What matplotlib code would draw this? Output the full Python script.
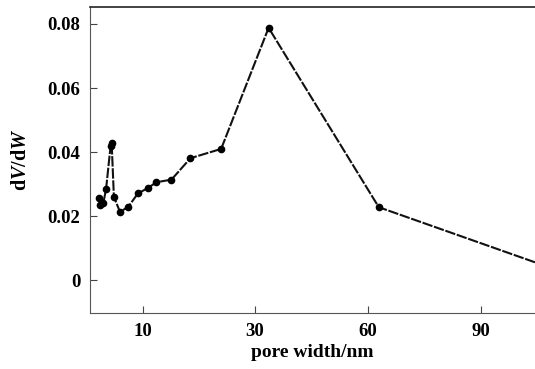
import numpy as np
import matplotlib
matplotlib.use("Agg")
import matplotlib.pyplot as plt

plt.rcParams['font.family'] = 'Liberation Serif'
plt.rcParams['mathtext.fontset'] = 'custom'
plt.rcParams['mathtext.it'] = 'Liberation Serif:italic:bold'
plt.rcParams['mathtext.rm'] = 'Liberation Serif:bold'

# pore width (nm) and dV/dW
width = [2.1, 2.4, 2.9, 3.4, 4.2, 4.4, 4.8, 5.9, 7.4, 9.1, 10.9, 12.4, 15.1, 18.5, 24.0, 33.7, 62.9, 104.3]
dvdw = [0.0256, 0.0234, 0.0240, 0.0285, 0.0418, 0.0428, 0.0260, 0.0213, 0.0230, 0.0271, 0.0288, 0.0306, 0.0314, 0.0381, 0.0410, 0.0788, 0.0228, 0.0056]

xticks = [10, 30, 60, 90]
yticks = [0, 0.02, 0.04, 0.06, 0.08]
yticklabels = ['0', '0.02', '0.04', '0.06', '0.08']

# the original axis is not linear: ticks 10, 30, 60, 90 sit evenly spaced
bx = [-100, 10, 30, 90, 300]
bp = [-473, 143, 255, 482, 1276]


def fwd(x):
    return np.interp(x, bx, bp)


def inv(p):
    return np.interp(p, bp, bx)


fig = plt.figure(figsize=(5.35, 3.69), dpi=100)
ax = fig.add_axes([0.168, 0.152, 0.832, 0.829])
ax.set_xscale('function', functions=(fwd, inv))

ax.plot(width, dvdw, color='#111111', lw=1.5, ls=(0, (5, 0.8)),
        marker='o', ms=4.5, mfc='black', mec='black',
        markevery=list(range(len(width) - 1)))

ax.set_xlim(0.5, 104.3)
ax.set_ylim(-0.0102, 0.0853)
ax.set_xticks(xticks)
ax.set_xticklabels([str(v) for v in xticks])
ax.set_yticks(yticks)
ax.set_yticklabels(yticklabels)
ax.tick_params(direction='in', length=5, width=0.8, colors='#444444',
               labelcolor='black', labelsize=13.5, pad=7)
for t in ax.get_xticklabels() + ax.get_yticklabels():
    t.set_fontweight('bold')

ax.spines['right'].set_visible(False)
ax.spines['left'].set_color('#555555')
ax.spines['bottom'].set_color('#555555')
ax.spines['top'].set_color('#222222')
ax.spines['top'].set_linewidth(1.2)

ax.set_xlabel('pore width/nm', fontsize=14, fontweight='bold', labelpad=3)
ax.set_ylabel(r'd$\mathit{V}$/d$\mathit{W}$', fontsize=14.5, fontweight='bold', labelpad=12)

fig.savefig('out.png', dpi=100)
